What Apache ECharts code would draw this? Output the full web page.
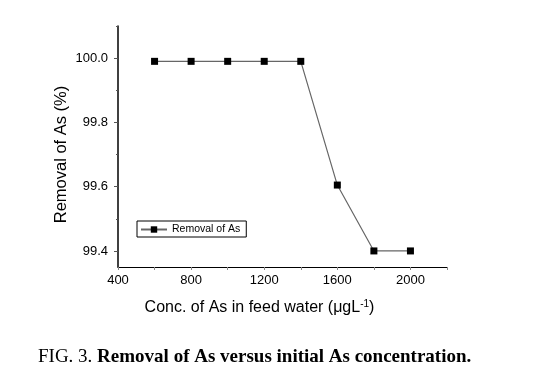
<!DOCTYPE html>
<html><head><meta charset="utf-8">
<script src="https://cdn.jsdelivr.net/npm/echarts@6/dist/echarts.min.js"></script>
<style>html,body{margin:0;padding:0;background:#fff}#c{width:560px;height:385px}</style>
</head><body><div id="c"></div>
<script>
const concentrations = [600, 800, 1000, 1200, 1400, 1600, 1800, 2000];
const removal = [99.99, 99.99, 99.99, 99.99, 99.99, 99.605, 99.40, 99.40];
const xTickLabels = [400, 800, 1200, 1600, 2000];
const yTickLabels = [99.4, 99.6, 99.8, 100.0];
const yMinorTicks = [99.5, 99.7, 99.9, 100.1];
const seriesName = 'Removal of As';

const chart = echarts.init(document.getElementById('c'));
const yBase = {
  type: 'value', min: 99.35, max: 100.1, interval: 0.05, position: 'left',
  splitLine: {show: false}
};
chart.setOption({
  animation: false,
  title: {
    text: '{a|FIG. 3. }{b|Removal of As versus initial As concentration.}',
    left: 33, top: 343,
    textStyle: {
      rich: {
        a: {fontFamily: 'Liberation Serif', fontSize: 19, fontWeight: 'normal', color: '#000'},
        b: {fontFamily: 'Liberation Serif', fontSize: 19, fontWeight: 'bold', color: '#000'}
      }
    }
  },
  grid: {left: 118, right: 113, top: 26, bottom: 118},
  legend: {
    data: [seriesName], left: 137, top: 221, orient: 'horizontal',
    borderColor: '#000', borderWidth: 1, padding: [3, 6, 2, 3],
    itemWidth: 26, itemHeight: 8, itemGap: 4,
    textStyle: {fontFamily: 'Liberation Sans', fontSize: 10.5, color: '#000'}
  },
  xAxis: {
    type: 'value', min: 400, max: 2200, interval: 400,
    name: '{t|Conc. of As in feed water (μgL}{s|-1}{t|)}',
    nameLocation: 'middle', nameGap: 32,
    nameTextStyle: {
      padding: [0, 46, 0, 0],
      rich: {
        t: {fontFamily: 'Liberation Sans', fontSize: 16, color: '#000', verticalAlign: 'bottom'},
        s: {fontFamily: 'Liberation Sans', fontSize: 10, color: '#000', verticalAlign: 'top', padding: [0, 0, 7, 0]}
      }
    },
    axisLine: {lineStyle: {color: '#000', width: 1}},
    axisTick: {show: true, length: 3, inside: false, lineStyle: {color: '#888'}},
    minorTick: {show: true, splitNumber: 2, length: 3, lineStyle: {color: '#888'}},
    axisLabel: {customValues: xTickLabels, fontFamily: 'Liberation Sans', fontSize: 13, color: '#000', margin: 7,
      formatter: v => String(v)},
    splitLine: {show: false}
  },
  yAxis: [
    Object.assign({}, yBase, {
      name: 'Removal of As (%)', nameLocation: 'middle', nameGap: 48, nameMoveOverlap: false,
      nameTextStyle: {fontFamily: 'Liberation Sans', fontSize: 16.5, color: '#000', padding: [0, 16, 0, 0]},
      axisLine: {show: true, lineStyle: {color: '#000', width: 1.5}},
      axisTick: {show: true, customValues: yTickLabels, length: 4, lineStyle: {color: '#555'}},
      axisLabel: {customValues: yTickLabels, fontFamily: 'Liberation Sans', fontSize: 13, color: '#000', margin: 10,
        formatter: v => v.toFixed(1)}
    }),
    Object.assign({}, yBase, {
      axisLine: {show: false},
      axisTick: {show: true, customValues: yMinorTicks, length: 2, lineStyle: {color: '#555'}},
      axisLabel: {show: false}
    })
  ],
  series: [{
    name: seriesName, type: 'line', yAxisIndex: 0,
    data: concentrations.map((c, i) => [c, removal[i]]),
    symbol: 'rect', symbolSize: 7,
    itemStyle: {color: '#000'},
    lineStyle: {color: '#666', width: 1.2}
  }]
});
</script></body></html>
